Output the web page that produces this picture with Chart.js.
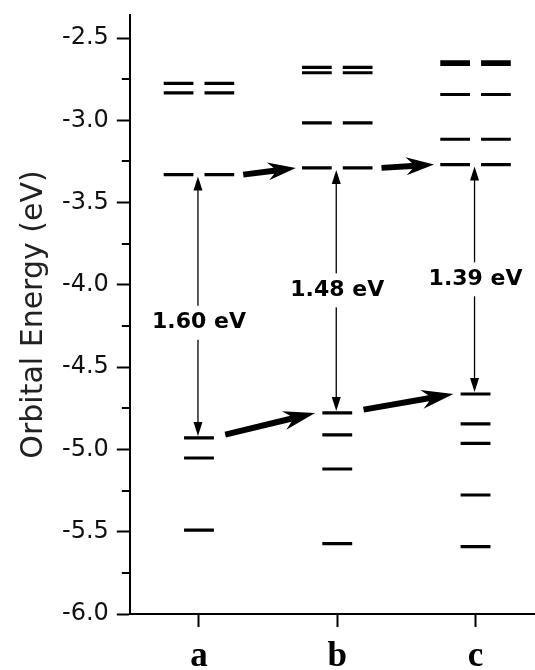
<!DOCTYPE html>
<html>
<head>
<meta charset="utf-8">
<script src="https://cdn.jsdelivr.net/npm/chart.js@4.4.1/dist/chart.umd.min.js"></script>
<style>
  html, body { margin: 0; padding: 0; background: #fff; }
  #wrap { width: 535px; height: 670px; }
</style>
</head>
<body>
<div id="wrap"><canvas id="orbitals"></canvas></div>
<script>
// Compounds along the x axis
const categories = ['a', 'b', 'c'];

// Unoccupied levels (degenerate pairs), eV - last one is the LUMO
const unoccA = [-2.776, -2.833, -3.330];
const unoccB = [-2.678, -2.711, -3.015, -3.289];
const unoccC = [-2.644, -2.660, -2.843, -3.115, -3.269];

// Occupied levels, eV - first one is the HOMO
const occA = [-4.930, -5.052, -5.490];
const occB = [-4.778, -4.912, -5.119, -5.572];
const occC = [-4.663, -4.845, -4.963, -5.277, -5.590];

// HOMO-LUMO gaps
const gapLabels = ['1.60 eV', '1.48 eV', '1.39 eV'];

// Energy axis
const yMin = -6.0;
const yMax = -2.36;
const yStep = 0.25;

const unocc = [unoccA, unoccB, unoccC];
const occ = [occA, occB, occC];

const pairSpans = [[-0.255, -0.04], [0.04, 0.255]];
const singleSpans = [[-0.108, 0.108]];

function levelPoints(levels, center, spans) {
    const pts = [];
    levels.forEach(e => {
        spans.forEach(([from, to]) => {
            pts.push({x: center + from, y: e}, {x: center + to, y: e}, {x: center + to, y: null});
        });
    });
    return pts;
}

const isMajor = v => Math.abs(v * 2 - Math.round(v * 2)) < 1e-6;

const datasets = [];
categories.forEach((c, i) => {
    datasets.push({
        data: levelPoints(unocc[i], i + 1, pairSpans),
        borderColor: '#000', borderWidth: 3.2, borderCapStyle: 'butt',
        pointRadius: 0, spanGaps: false
    });
    datasets.push({
        data: levelPoints(occ[i], i + 1, singleSpans),
        borderColor: '#000', borderWidth: 3.2, borderCapStyle: 'butt',
        pointRadius: 0, spanGaps: false
    });
});

// arrow helpers
function thinHead(ctx, x, y, dir) {
    ctx.beginPath();
    ctx.moveTo(x, y);
    ctx.lineTo(x - 4.5, y + dir * 14);
    ctx.lineTo(x + 4.5, y + dir * 14);
    ctx.closePath();
    ctx.fill();
}

function thickArrow(ctx, x1, y1, x2, y2, shaft, headLen, headHalf, notch) {
    const len = Math.hypot(x2 - x1, y2 - y1);
    const ang = Math.atan2(y2 - y1, x2 - x1);
    ctx.save();
    ctx.translate(x1, y1);
    ctx.rotate(ang);
    ctx.beginPath();
    ctx.moveTo(0, -shaft / 2);
    ctx.lineTo(len - headLen + notch, -shaft / 2);
    ctx.lineTo(len - headLen, -headHalf);
    ctx.lineTo(len, 0);
    ctx.lineTo(len - headLen, headHalf);
    ctx.lineTo(len - headLen + notch, shaft / 2);
    ctx.lineTo(0, shaft / 2);
    ctx.closePath();
    ctx.fill();
    ctx.restore();
}

const annotations = {
    id: 'annotations',
    afterDatasetsDraw(chart, args, opts) {
        const {ctx, chartArea} = chart;
        const xs = chart.scales.x, ys = chart.scales.y;
        ctx.save();
        ctx.fillStyle = '#000';
        ctx.strokeStyle = '#000';

        // minor ticks on the energy axis
        ctx.lineWidth = 2;
        ys.ticks.forEach(t => {
            if (isMajor(t.value)) return;
            const py = Math.round(ys.getPixelForValue(t.value));
            ctx.beginPath();
            ctx.moveTo(chartArea.left - 8, py);
            ctx.lineTo(chartArea.left, py);
            ctx.stroke();
        });

        const lumo = unocc.map(l => l[l.length - 1]);
        const homo = occ.map(l => l[0]);

        // gap arrows with labels
        categories.forEach((c, i) => {
            const px = xs.getPixelForValue(i + 1) - 1;
            const top = ys.getPixelForValue(lumo[i]) + 2;
            const bot = ys.getPixelForValue(homo[i]) - 2;
            ctx.lineWidth = 1.3;
            ctx.beginPath();
            ctx.moveTo(px, top + 10);
            ctx.lineTo(px, bot - 10);
            ctx.stroke();
            thinHead(ctx, px, top, 1);
            thinHead(ctx, px, bot, -1);

            const ly = ys.getPixelForValue((lumo[i] + homo[i]) / 2 + opts.labelShift[i]);
            ctx.font = 'bold 22px "DejaVu Sans"';
            const w = ctx.measureText(gapLabels[i]).width;
            ctx.fillStyle = '#fff';
            ctx.fillRect(px - w / 2 - 2, ly - 17, w + 4, 34);
            ctx.fillStyle = '#000';
            ctx.textAlign = 'center';
            ctx.textBaseline = 'middle';
            ctx.fillText(gapLabels[i], px + 1, ly);
        });

        // level shift arrows
        for (let i = 0; i < categories.length - 1; i++) {
            thickArrow(ctx,
                xs.getPixelForValue(i + 1 + 0.32), ys.getPixelForValue(lumo[i]),
                xs.getPixelForValue(i + 2 - 0.30), ys.getPixelForValue(lumo[i + 1]),
                6, 28, 9, 6);
            thickArrow(ctx,
                xs.getPixelForValue(i + 1 + 0.19), ys.getPixelForValue(homo[i] + 0.02),
                xs.getPixelForValue(i + 2 - 0.16), ys.getPixelForValue(homo[i + 1]),
                6, 32, 9.5, 7);
        }
        ctx.restore();
    }
};

new Chart(document.getElementById('orbitals'), {
    type: 'line',
    data: { datasets: datasets },
    options: {
        responsive: true,
        maintainAspectRatio: false,
        animation: false,
        devicePixelRatio: 1,
        layout: { padding: { left: 10, top: 15, right: 0, bottom: -17 } },
        plugins: {
            legend: { display: false },
            tooltip: { enabled: false },
            annotations: { labelShift: [-0.1, 0, 0] }
        },
        scales: {
            x: {
                type: 'linear',
                min: 0.5,
                max: 3.43,
                afterBuildTicks: axis => {
                    axis.ticks = categories.map((c, i) => ({ value: i + 1 }));
                },
                border: { color: '#000', width: 2 },
                grid: { drawOnChartArea: false, drawTicks: true, tickLength: 13, tickWidth: 2, tickColor: '#000' },
                ticks: {
                    padding: 12.5,
                    color: '#000',
                    font: { family: '"Liberation Serif"', size: 35, weight: 'bold', lineHeight: 1 },
                    callback: v => categories[Math.round(v) - 1] || ''
                }
            },
            y: {
                type: 'linear',
                min: yMin,
                max: yMax,
                border: { color: '#000', width: 2 },
                grid: {
                    drawOnChartArea: false, drawTicks: true, tickLength: 13, tickWidth: 2,
                    tickColor: ctx => (ctx.tick && isMajor(ctx.tick.value)) ? '#000' : 'rgba(0,0,0,0)'
                },
                ticks: {
                    stepSize: yStep,
                    includeBounds: false,
                    padding: 8,
                    color: '#111',
                    font: { family: '"DejaVu Sans"', size: 24, lineHeight: 0.55 },
                    callback: v => isMajor(v) ? v.toFixed(1) : ''
                },
                title: {
                    display: true,
                    text: 'Orbital Energy (eV)',
                    color: '#222',
                    font: { family: '"DejaVu Sans"', size: 30 },
                    padding: { top: 6, bottom: 2 }
                }
            }
        }
    },
    plugins: [annotations]
});
</script>
</body>
</html>
